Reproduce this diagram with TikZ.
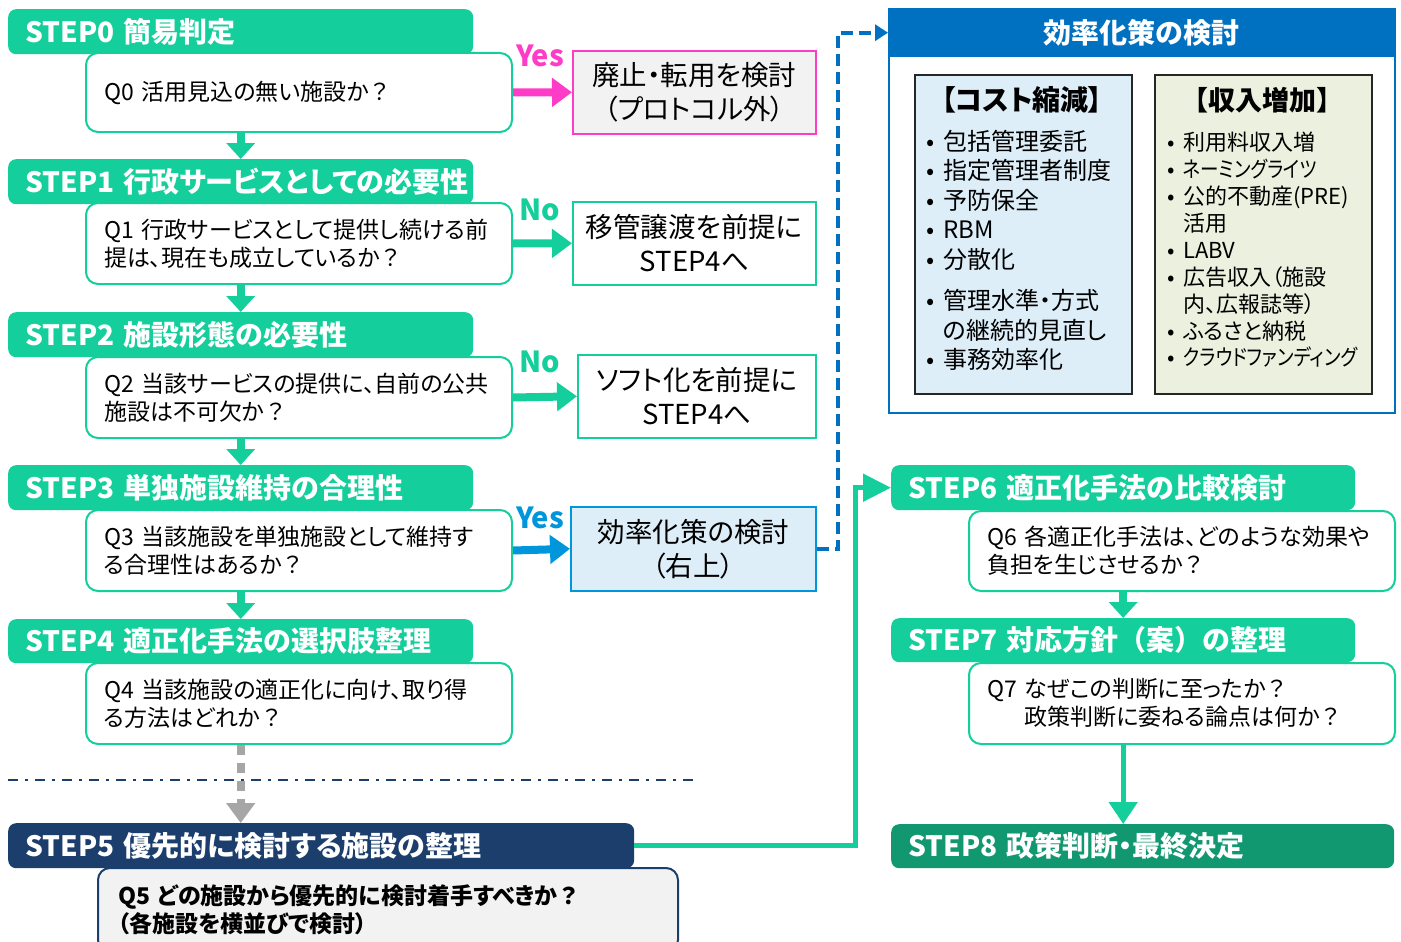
\documentclass[tikz,border=0pt]{standalone}
\usepackage{fontspec}
\usepackage{graphicx}
\setmainfont{Noto Sans CJK JP}[RawFeature=+palt]
\newfontfamily\jpfull{Noto Sans CJK JP}
\usetikzlibrary{arrows.meta}
\definecolor{stepgreen}{RGB}{20,206,155}
\definecolor{stepdark}{RGB}{18,152,112}
\definecolor{navy}{RGB}{27,62,108}
\definecolor{mag}{RGB}{255,60,200}
\definecolor{yesblue}{RGB}{0,150,220}
\definecolor{boxblue}{RGB}{0,112,192}
\definecolor{lblue}{RGB}{221,238,248}
\definecolor{lgreen}{RGB}{235,241,222}
\definecolor{lgray}{RGB}{242,242,242}
\definecolor{arrowgray}{RGB}{166,166,166}
\tikzset{
  hdr/.style={fill=stepgreen, rounded corners=8pt, text=white, anchor=north west, inner xsep=17pt, inner ysep=0pt, align=left, minimum height=45pt, font=\fontsize{28}{32}\selectfont\bfseries},
  qbox/.style={draw=stepgreen, line width=2pt, fill=white, rounded corners=12pt, anchor=north west, align=left, inner xsep=18pt, inner ysep=0pt, minimum height=80pt, font=\fontsize{23}{28}\selectfont},
  rbox/.style={line width=1.6pt, anchor=north west, align=center, inner sep=0pt, minimum height=83pt, font=\fontsize{27.5}{34}\selectfont},
  lbl/.style={font=\fontsize{29}{32}\selectfont\bfseries, inner sep=0pt},
  garrow/.style={draw=stepgreen, line width=8pt, -{Triangle[length=16pt,width=28pt]}},
  harrow/.style={line width=8pt, -{Triangle[length=20pt,width=28pt]}},
  items/.style={anchor=north west, align=left, inner sep=0pt},
}
\newcommand\bul[1]{\makebox[#1][l]{•}}
\newcommand\nar[1]{\scalebox{0.84}[1]{#1}}
\newcommand\fq{{\jpfull ？}}
\begin{document}
\begin{tikzpicture}[x=1pt,y=-1pt]
\useasboundingbox (0,0) rectangle (1401,942);
\clip (0,0) rectangle (1401,942);
% left column
\node[hdr, text width=431pt] (s0) at (8,9) {STEP0 簡易判定};
\node[qbox, text width=390pt, minimum height=79pt] (q0) at (85,52) {Q0 活用見込の無い施設か\fq};
\node[hdr, text width=431pt] (s1) at (8,159) {\mbox{STEP1 行政サービスとしての必要性}};
\node[qbox, text width=390pt, minimum height=81pt] (q1) at (85,202) {Q1 行政サービスとして提供し続ける前\\提は、現在も成立しているか\fq};
\node[hdr, text width=431pt] (s2) at (8,312) {STEP2 施設形態の必要性};
\node[qbox, text width=390pt, minimum height=81pt] (q2) at (85,356) {Q2 当該サービスの提供に、自前の公共\\施設は不可欠か\fq};
\node[hdr, text width=431pt] (s3) at (8,465) {STEP3 単独施設維持の合理性};
\node[qbox, text width=390pt, minimum height=81pt] (q3) at (85,509) {Q3 当該施設を単独施設として維持す\\る合理性はあるか\fq};
\node[hdr, text width=431pt, minimum height=44pt] (s4) at (8,619) {STEP4 適正化手法の選択肢整理};
\node[qbox, text width=390pt, minimum height=81pt] (q4) at (85,662) {Q4 当該施設の適正化に向け、取り得\\る方法はどれか\fq};
\node[hdr, fill=navy, text width=592pt] (s5) at (8,823) {STEP5 優先的に検討する施設の整理};
\node[qbox, draw=navy, fill=lgray, text width=540pt, inner xsep=20pt, minimum height=84pt, font=\fontsize{23}{28}\selectfont\bfseries] (q5) at (97,867) {Q5 どの施設から優先的に検討着手すべきか\fq\\（各施設を横並びで検討）};
% down arrows
\draw[garrow] (q0.south -| s1.north) -- (s1.north);
\draw[garrow] (q1.south -| s2.north) -- (s2.north);
\draw[garrow] (q2.south -| s3.north) -- (s3.north);
\draw[garrow] (q3.south -| s4.north) -- (s4.north);
\draw[draw=arrowgray, line width=8pt, dash pattern=on 10pt off 8pt, -{Triangle[length=20pt,width=28pt]}] (q4.south -| s4.north) -- (s5.north -| s4.north);
\coordinate (dl) at (8,780);
\coordinate (dr) at (700,780);
\draw[navy, line width=2.5pt, dash pattern=on 10pt off 7pt on 3pt off 7pt] (dl) -- (dr);
% right option boxes
\node[rbox, draw=mag, fill=lgray, minimum width=243pt] (r0) at (572,50) {廃止・転用を検討\\（プロトコル外）};
\node[rbox, draw=stepgreen, fill=white, minimum width=243pt] (r1) at (572,201) {移管譲渡を前提に\\STEP4へ};
\node[rbox, draw=stepgreen, fill=white, minimum width=238pt] (r2) at (577,354) {ソフト化を前提に\\STEP4へ};
\node[rbox, draw=yesblue, fill=lblue, minimum width=245pt, minimum height=84pt] (r3) at (570,506) {効率化策の検討\\（右上）};
\draw[harrow, draw=mag] (q0.east) -- (r0.west);
\draw[harrow, draw=stepgreen] (q1.east) -- (r1.west);
\draw[harrow, draw=stepgreen] (q2.east) -- (r2.west);
\draw[harrow, draw=yesblue] (q3.east) -- (r3.west);
\node[lbl, text=mag] (l0) at (540,56) {Yes};
\node[lbl, text=stepgreen] (l1) at (540,210) {No};
\node[lbl, text=stepgreen] (l2) at (540,362) {No};
\node[lbl, text=yesblue] (l3) at (540,518) {Yes};
% efficiency box
\node[draw=boxblue, line width=2pt, fill=white, anchor=north west, inner sep=0pt, minimum width=506pt, minimum height=404pt] (eff) at (888,8) {};
\node[fill=boxblue, anchor=north west, inner sep=0pt, minimum width=506pt, minimum height=49pt, text=white, font=\fontsize{28}{32}\selectfont\bfseries] (effh) at (888,8) {効率化策の検討};
\node[draw=black!85, line width=1.6pt, fill=lblue, anchor=north west, inner sep=0pt, minimum width=217pt, minimum height=319pt] (cost) at (914,74) {};
\node[draw=black!85, line width=1.6pt, fill=lgreen, anchor=north west, inner sep=0pt, minimum width=217pt, minimum height=319pt] (rev) at (1154,74) {};
\node[font=\fontsize{28}{32}\selectfont\bfseries] (costt) at (1022,100) {【コスト縮減】};
\node[font=\jpfull\fontsize{27}{32}\selectfont\bfseries] (revt) at (1262,100) {【収入増加】};
\node[items, font=\fontsize{24}{29.5}\selectfont] (costl) at (926,130) {\bul{17pt}包括管理委託\\\bul{17pt}指定管理者制度\\\bul{17pt}予防保全\\\bul{17pt}RBM\\\bul{17pt}分散化\\[12pt]\bul{17pt}管理水準・方式\\\hspace*{17pt}の継続的見直し\\\bul{17pt}事務効率化};
\node[items, font=\fontsize{22}{26.9}\selectfont] (revl) at (1167,132) {\bul{16pt}利用料収入増\\\bul{16pt}\nar{ネーミングライツ}\\\bul{16pt}公的不動産(PRE)\\\hspace*{16pt}活用\\\bul{16pt}LABV\\\bul{16pt}広告収入（施設\\\hspace*{16pt}内、広報誌等）\\\bul{16pt}ふるさと納税\\\bul{16pt}\nar{クラウドファンディング}};
\draw[boxblue, line width=4pt, dash pattern=on 12pt off 6pt, -{Triangle[length=13pt,width=16pt]}] (r3.east) -- ++(21,0) |- (effh.west);
% right column
\node[hdr, text width=430pt] (s6) at (891,465) {STEP6 適正化手法の比較検討};
\node[qbox, text width=390pt, minimum height=80pt] (q6) at (968,510) {Q6 各適正化手法は、どのような効果や\\負担を生じさせるか\fq};
\node[hdr, text width=430pt, minimum height=44pt] (s7) at (891,618) {STEP7 対応方針{\jpfull （案）}の整理};
\node[qbox, text width=390pt, minimum height=81pt] (q7) at (968,662) {Q7 なぜこの判断に至ったか\fq\\\phantom{Q7 }政策判断に委ねる論点は何か\fq};
\node[hdr, fill=stepdark, text width=469pt, minimum height=44pt] (s8) at (891,824) {STEP8 政策判断・最終決定};
\draw[garrow] (q6.south -| s7.north) -- (s7.north);
\draw[draw=stepgreen, line width=5pt, -{Triangle[length=22pt,width=28pt]}] (q7.south -| s7.north) -- (s8.north -| s7.north);
\draw[draw=stepgreen, line width=5pt, -{Triangle[length=28pt,width=27pt]}] (s5.east) -- ++(221,0) |- (s6.west);
\end{tikzpicture}
\end{document}
